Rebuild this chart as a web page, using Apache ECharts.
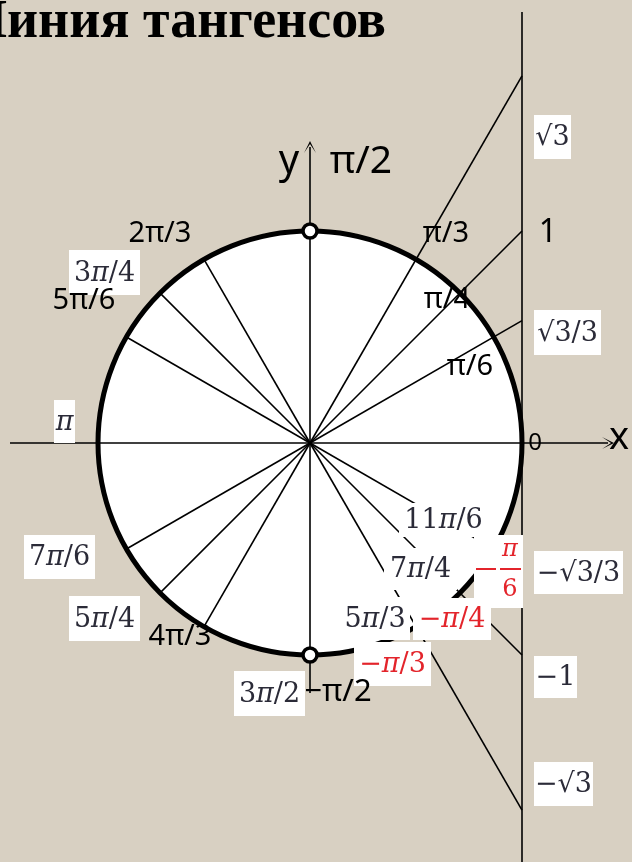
<!doctype html>
<html>
<head>
<meta charset="utf-8">
<title>Линия тангенсов</title>
<style>
  html, body { margin: 0; padding: 0; background: #d8d0c2; }
  #chart { width: 632px; height: 862px; }
</style>
<script src="https://cdn.jsdelivr.net/npm/echarts@6/dist/echarts.min.js"></script>
</head>
<body>
<div id="chart"></div>
<script>
// angles are in units of pi
const spokeAngles = [2/3, 3/4, 5/6, 7/6, 5/4, 4/3];          // radii drawn to the circle
const tanAngles = [1/3, 1/4, 1/6, -1/6, -1/4, -1/3];          // rays drawn to the tangent line
const tanValues = [1.732, 1, 0.577, -0.577, -1, -1.732];
const tanLabels = ['√3', '1', '√3/3', '−√3/3', '−1', '−√3'];
const polePoints = [[0, 1], [0, -1]];                          // π/2 and 3π/2
const title = 'Линия тангенсов';

// pixel layout
const U = 212, CX = 310, CY = 443, W = 632, H = 862;

// label placement: [text, centre x, centre y, font size]
const plainLabels = [
  ['y', 289, 162, 40], ['π/2', 361, 162, 39], ['x', 619, 438, 38], ['0', 535, 443, 24],
  ['1', 548, 233, 32], ['2π/3', 160, 234, 29], ['π/3', 446, 234, 29], ['π/4', 447, 300, 29],
  ['π/6', 470, 367, 29], ['5π/6', 84, 301, 29], ['4π/3', 180, 637, 29], ['−π/2', 338, 692, 31]
];
// boxed labels: [text, x0, y0, x1, y1, colour]
const ink = '#2b2b38', red = '#e3242b';
const boxedLabels = [
  [tanLabels[0], 534, 115, 571, 159, ink], [tanLabels[2], 534, 310, 601, 355, ink], [tanLabels[3], 534, 551, 623, 594, ink],
  [tanLabels[4], 534, 656, 577, 698, ink], [tanLabels[5], 534, 762, 593, 806, ink],
  ['3π/4', 69, 250, 140, 295, ink], ['π', 54, 400, 75, 443, ink], ['7π/6', 24, 535, 95, 579, ink],
  ['5π/4', 69, 596, 140, 641, ink], ['3π/2', 234, 671, 305, 716, ink], ['11π/6', 399, 503, 488, 537, ink],
  ['7π/4', 384, 548, 457, 590, ink], ['5π/3', 340, 597, 410, 640, ink],
  ['−π/4', 413, 598, 491, 640, red], ['−π/3', 354, 642, 431, 686, red]
];

const toRad = a => a * Math.PI;
const spokes = spokeAngles.map(a => ({coords: [[0, 0], [Math.cos(toRad(a)), Math.sin(toRad(a))]]}));
const rays = tanValues.map(t => ({coords: [[0, 0], [1, t]]}));
const tangentLine = [{coords: [[1, -2.1], [1, (CY - 12) / U]]}];
const axes = [
  {coords: [[(10 - CX) / U, 0], [(608 - CX) / U, 0]]},
  {coords: [[0, -(693 - CY) / U], [0, (CY - 147) / U]]}
];

function plainText(l) {
  return {
    type: 'text', z: 101,
    style: {
      text: l[0], x: l[1], y: l[2], fill: '#000',
      fontSize: l[3], fontFamily: '"Noto Sans"',
      align: 'center', verticalAlign: 'middle', textAlign: 'center', textVerticalAlign: 'middle'
    }
  };
}

function boxedText(l) {
  const [text, x0, y0, x1, y1, color] = l;
  const size = 27;
  return [
    {type: 'rect', z: 100, shape: {x: x0, y: y0, width: x1 - x0, height: y1 - y0}, style: {fill: '#fff'}},
    {
      type: 'text', z: 101,
      style: {
        text: text.replace(/π/g, '{i|π}'), x: (x0 + x1) / 2, y: (y0 + y1) / 2 + 1,
        fill: color, fontSize: size, fontFamily: '"DejaVu Serif"',
        align: 'center', verticalAlign: 'middle', textAlign: 'center', textVerticalAlign: 'middle',
        rich: {i: {fontStyle: 'italic', fontSize: size, fontFamily: '"DejaVu Serif"', fill: color}}
      }
    }
  ];
}

// −π/6 written as a stacked fraction
function fractionLabel() {
  const f = '"DejaVu Serif"';
  const base = {fill: red, fontFamily: f, fontSize: 24, align: 'center', verticalAlign: 'middle', textAlign: 'center', textVerticalAlign: 'middle'};
  return [
    {type: 'rect', z: 100, shape: {x: 474, y: 535, width: 49, height: 73}, style: {fill: '#fff'}},
    {type: 'rect', z: 101, shape: {x: 476, y: 568, width: 20, height: 2}, style: {fill: red}},
    {type: 'rect', z: 101, shape: {x: 500, y: 568, width: 21, height: 2}, style: {fill: red}},
    {type: 'text', z: 101, style: Object.assign({}, base, {text: 'π', x: 510, y: 550, fontStyle: 'italic'})},
    {type: 'text', z: 101, style: Object.assign({}, base, {text: '6', x: 510, y: 590})}
  ];
}

const graphics = [].concat(
  [{
    type: 'text', z: 101,
    style: {
      text: title, x: 386, y: 23, fill: '#000',
      fontSize: 54, fontWeight: 'bold', fontFamily: '"Liberation Serif"',
      align: 'right', verticalAlign: 'middle', textAlign: 'right', textVerticalAlign: 'middle'
    }
  }],
  plainLabels.map(plainText),
  ...boxedLabels.map(boxedText),
  fractionLabel()
);

const chart = echarts.init(document.getElementById('chart'), null, {renderer: 'canvas'});
chart.setOption({
  backgroundColor: '#d8d0c2',
  animation: false,
  grid: {left: 0, right: 0, top: 0, bottom: 0},
  xAxis: {type: 'value', min: -CX / U, max: (W - CX) / U, show: false},
  yAxis: {type: 'value', min: -(H - CY) / U, max: CY / U, show: false},
  series: [
    {
      type: 'custom', z: 1, silent: true,
      data: [[0, 0, 1]],
      renderItem: function (params, api) {
        const c = api.coord([api.value(0), api.value(1)]);
        const r = api.size([api.value(2), 0])[0];
        return {
          type: 'circle',
          shape: {cx: c[0], cy: c[1], r: r},
          style: {fill: '#fff', stroke: '#000', lineWidth: 5}
        };
      }
    },
    {
      type: 'lines', coordinateSystem: 'cartesian2d', z: 2, silent: true,
      data: spokes.concat(rays, tangentLine),
      lineStyle: {color: '#000', width: 1.6, opacity: 1}
    },
    {
      type: 'lines', coordinateSystem: 'cartesian2d', z: 3, silent: true,
      data: axes,
      symbol: ['none', 'path://M5,0 L10,12 L5,3 L0,12 Z'], symbolSize: [9, 12],
      lineStyle: {color: '#000', width: 1.6, opacity: 1}
    },
    {
      type: 'scatter', z: 5, silent: true,
      data: polePoints,
      symbol: 'circle', symbolSize: 14,
      itemStyle: {color: '#fff', borderColor: '#000', borderWidth: 3.5, opacity: 1}
    }
  ],
  graphic: graphics
});
</script>
</body>
</html>
